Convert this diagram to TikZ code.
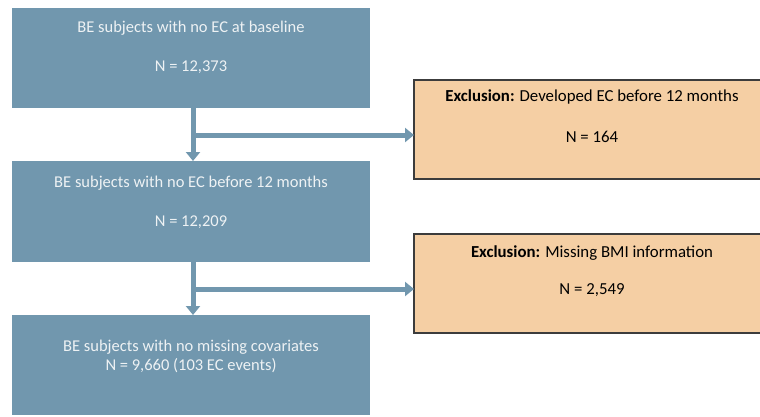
\documentclass[tikz,border=0pt]{standalone}
\usepackage{fontspec}
\setmainfont{Carlito}
\usetikzlibrary{arrows.meta}
\definecolor{bluebox}{RGB}{113,151,174}
\definecolor{orangebox}{RGB}{245,207,164}
\definecolor{edgegray}{RGB}{60,60,60}
\definecolor{paletext}{RGB}{238,242,244}
\tikzset{
  exbox/.style={fill=orangebox, draw=edgegray, line width=1.3bp, inner sep=0pt},
  flowline/.style={draw=bluebox, line width=5bp},
  flowarrow/.style={draw=bluebox, line width=5bp, -{Triangle[width=14bp,length=9bp]}},
  whitetext/.style={text=paletext, font=\fontsize{16.5bp}{19bp}\selectfont},
  blacktext/.style={text=black, font=\fontsize{16.8bp}{19bp}\selectfont},
}
\begin{document}
\begin{tikzpicture}[x=1bp,y=-1bp]
\useasboundingbox (0,0) rectangle (760,416);
\begin{scope}
\clip (0,0) rectangle (760,416);
% main boxes
\path[fill=bluebox] (12,8) rectangle (370,108);
\path[fill=bluebox] (12,161) rectangle (370,262);
\path[fill=bluebox] (12,315) rectangle (370,415);
% exclusion boxes
\path[exbox] (414,80) rectangle (772,179);
\path[exbox] (414,234) rectangle (772,333);
\end{scope}
% anchors
\coordinate (b1b) at (193,108);
\coordinate (b2t) at (193,161);
\coordinate (j1) at (193,135);
\coordinate (e1l) at (414,135);
\coordinate (b2b) at (193,262);
\coordinate (b3t) at (193,315);
\coordinate (j2) at (193,289);
\coordinate (e2l) at (414,289);
% texts
\node[whitetext] (t1a) at (191,28) {BE subjects with no EC at baseline};
\node[whitetext] (t1b) at (191,67) {N = 12,373};
\node[whitetext] (t2a) at (191,183) {BE subjects with no EC before 12 months};
\node[whitetext] (t2b) at (191,222) {N = 12,209};
\node[whitetext] (t3a) at (191,347) {BE subjects with no missing covariates};
\node[whitetext] (t3b) at (191,366) {N = 9,660 (103 EC events)};
\node[blacktext] (e1a) at (592,97) {\textbf{Exclusion:} Developed EC before 12 months};
\node[blacktext] (e1b) at (592,137) {N = 164};
\node[blacktext] (e2a) at (592,253) {\textbf{Exclusion:} Missing BMI information};
\node[blacktext] (e2b) at (592,290) {N = 2,549};
% connectors
\draw[flowarrow] (b1b) -- (b2t);
\draw[flowarrow] (j1) -- (e1l);
\draw[flowarrow] (b2b) -- (b3t);
\draw[flowarrow] (j2) -- (e2l);
\end{tikzpicture}
\end{document}
